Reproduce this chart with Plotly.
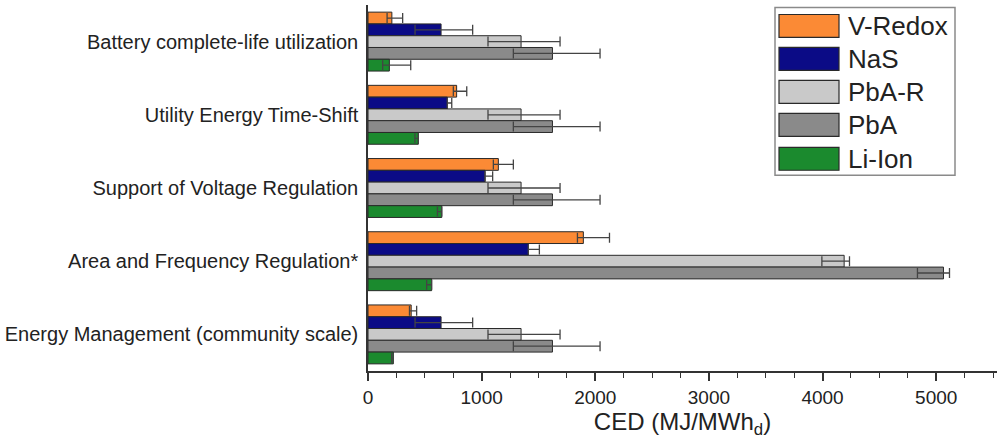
import plotly.graph_objects as go

# Application categories (top to bottom)
categories = [
    "Battery complete-life utilization",
    "Utility Energy Time-Shift",
    "Support of Voltage Regulation",
    "Area and Frequency Regulation*",
    "Energy Management (community scale)",
]

series_names = ["V-Redox", "NaS", "PbA-R", "PbA", "Li-Ion"]

# CED values (MJ/MWh_d) with lower / upper uncertainty
v_redox = [210, 780, 1147, 1895, 380]
v_redox_minus = [42, 29, 44, 52, 15]
v_redox_plus = [95, 89, 132, 230, 48]

nas = [643, 698, 1030, 1411, 643]
nas_minus = [229, 0, 0, 0, 229]
nas_plus = [278, 39, 67, 97, 278]

pba_r = [1347, 1347, 1347, 4190, 1347]
pba_r_minus = [291, 291, 291, 196, 291]
pba_r_plus = [343, 343, 343, 47, 343]

pba = [1623, 1623, 1623, 5064, 1623]
pba_minus = [344, 344, 344, 229, 344]
pba_plus = [419, 419, 419, 53, 419]

li_ion = [188, 443, 649, 560, 223]
li_ion_minus = [59, 30, 38, 44, 15]
li_ion_plus = [188, 0, 0, 0, 0]

x_ticks = [0, 1000, 2000, 3000, 4000, 5000]

colors = ["#FB8A35", "#0B0B86", "#C9C9C9", "#8A8A8A", "#1B8A2E"]

values = [v_redox, nas, pba_r, pba, li_ion]
minus = [v_redox_minus, nas_minus, pba_r_minus, pba_minus, li_ion_minus]
plus = [v_redox_plus, nas_plus, pba_r_plus, pba_plus, li_ion_plus]

FONT = "Arial, 'Liberation Sans', sans-serif"

fig = go.Figure()
for name, vals, lo, hi, col in zip(series_names, values, minus, plus, colors):
    fig.add_trace(go.Bar(
        name=name,
        y=categories,
        x=vals,
        orientation="h",
        marker=dict(color=col, line=dict(color="#2a2a2a", width=1)),
        error_x=dict(
            type="data", symmetric=False, array=hi, arrayminus=lo,
            color="#444444", thickness=1.3, width=5,
        ),
        showlegend=False,
    ))

# Figure geometry (pixels)
W, H = 997, 448
ML, MR, MT, MB = 368, 0, 4.5, 77
PW, PH = W - ML - MR, H - MT - MB


def px(x):
    return (x - ML) / PW


def py(y):
    return (H - MB - y) / PH


# Hand-drawn legend box with wide swatches
shapes = [dict(type="rect", xref="paper", yref="paper",
               x0=px(775), x1=px(955), y0=py(175), y1=py(7),
               line=dict(color="#8a8a8a", width=1.5), fillcolor="white")]
annotations = []
row_top = [14, 47, 80, 113, 147]
for name, col, top in zip(series_names, colors, row_top):
    shapes.append(dict(type="rect", xref="paper", yref="paper",
                       x0=px(779), x1=px(839), y0=py(top + 23), y1=py(top),
                       line=dict(color="#2a2a2a", width=1.2), fillcolor=col))
    annotations.append(dict(xref="paper", yref="paper", x=px(846), y=py(top + 12),
                            text=name, showarrow=False, xanchor="left", yanchor="middle",
                            font=dict(family=FONT, size=26, color="#222222")))

fig.update_layout(
    width=W, height=H,
    margin=dict(l=ML, r=MR, t=MT, b=MB),
    paper_bgcolor="white", plot_bgcolor="white",
    barmode="group", bargap=0.195, bargroupgap=0,
    shapes=shapes, annotations=annotations,
    font=dict(family=FONT, color="#222222"),
)

fig.update_xaxes(
    range=[0, 5535], tickvals=x_ticks,
    showline=True, linecolor="#333333", linewidth=1.5,
    ticks="outside", ticklen=8, tickwidth=1.5, tickcolor="#333333",
    minor=dict(dtick=250, ticks="outside", ticklen=5, tickwidth=1.2, tickcolor="#333333"),
    showgrid=False, zeroline=False,
    tickfont=dict(family=FONT, size=19, color="#222222"),
    title=dict(text="CED (MJ/MWh<sub>d</sub>)", standoff=6,
               font=dict(family=FONT, size=24, color="#222222")),
)
fig.update_yaxes(
    autorange="reversed",
    showline=True, linecolor="#333333", linewidth=1.5,
    ticks="", showgrid=False, zeroline=False,
    ticklabelstandoff=4,
    tickfont=dict(family=FONT, size=20, color="#222222"),
)

fig.write_html("out.html")
